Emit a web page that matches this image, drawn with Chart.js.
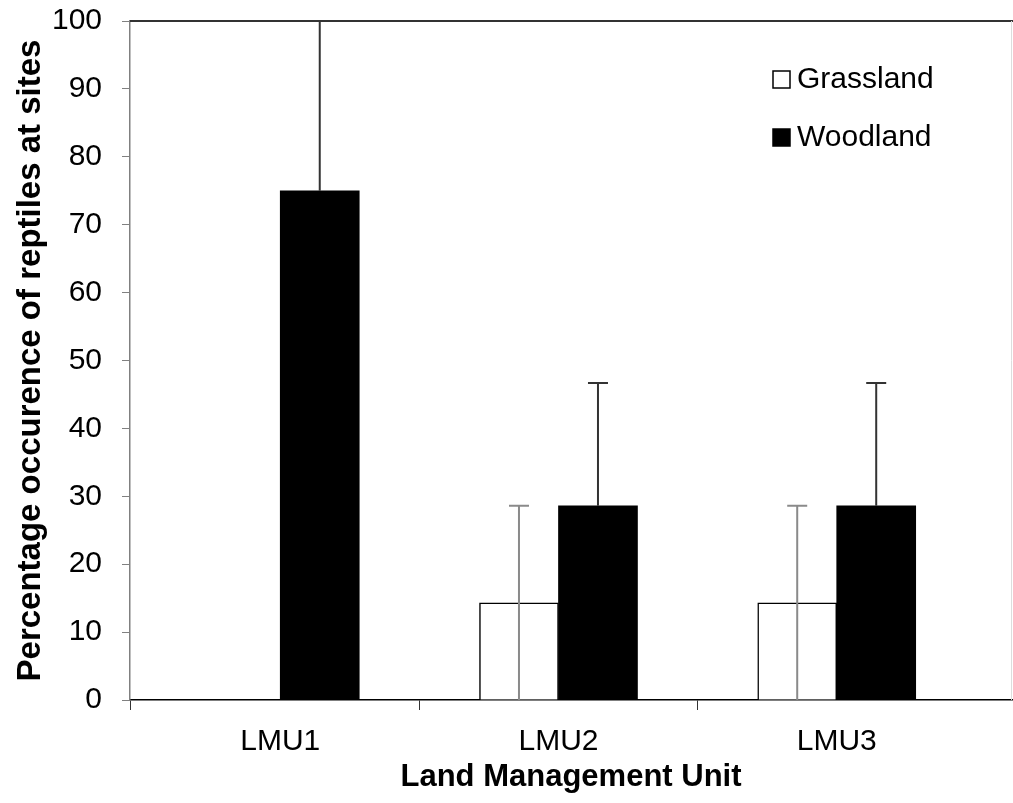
<!DOCTYPE html>
<html>
<head>
<meta charset="utf-8">
<script src="https://cdn.jsdelivr.net/npm/chart.js@4.4.1/dist/chart.umd.min.js"></script>
<style>
  html, body { margin: 0; padding: 0; background: #fff; }
  #wrap { width: 1013px; height: 803px; }
</style>
</head>
<body>
<div id="wrap"><canvas id="reptile-chart" width="1013" height="803"></canvas></div>
<script>
// data
const categories = ['LMU1', 'LMU2', 'LMU3'];
const grassland = [0, 14.3, 14.3];
const grasslandErr = [0, 14.3, 14.3];
const woodland = [75, 28.6, 28.6];
const woodlandErr = [25, 18.1, 18.1];
const yTicks = [0, 10, 20, 30, 40, 50, 60, 70, 80, 90, 100];

const FONT = "'Liberation Sans', Arial, sans-serif";
const X_MIN = -0.04;
const X_MAX = 3.13;

const toPoints = arr => arr.map((v, i) => ({ x: i + 0.5, y: v }));

// error bars drawn through the scales; minus half only where it shows
const errorBars = {
    id: 'errorBars',
    afterDatasetsDraw(chart) {
        const { ctx } = chart;
        const yScale = chart.scales.y;
        chart.data.datasets.forEach((ds, di) => {
            const meta = chart.getDatasetMeta(di);
            meta.data.forEach((bar, i) => {
                const err = ds.errors[i];
                if (!err) return;
                const v = ds.data[i].y;
                const top = yScale.getPixelForValue(Math.min(v + err, 100));
                const bottom = ds.errorMinus ? yScale.getPixelForValue(Math.max(v - err, 0)) : yScale.getPixelForValue(v);
                ctx.save();
                ctx.strokeStyle = ds.errorColor;
                ctx.lineWidth = 2;
                ctx.beginPath();
                ctx.moveTo(bar.x, bottom);
                ctx.lineTo(bar.x, top);
                ctx.moveTo(bar.x - 10, top);
                ctx.lineTo(bar.x + 10, top);
                ctx.stroke();
                ctx.restore();
            });
        });
    }
};

// top/right frame and the legend inside the plot
const frameAndLegend = {
    id: 'frameAndLegend',
    afterDraw(chart) {
        const { ctx, chartArea } = chart;
        ctx.save();
        ctx.strokeStyle = '#333';
        ctx.lineWidth = 2;
        ctx.beginPath();
        ctx.moveTo(chartArea.left, chartArea.top);
        ctx.lineTo(chartArea.right + 1, chartArea.top);
        ctx.stroke();
        ctx.strokeStyle = '#ddd';
        ctx.lineWidth = 1;
        ctx.beginPath();
        ctx.moveTo(chartArea.right - 0.5, chartArea.top);
        ctx.lineTo(chartArea.right - 0.5, chartArea.bottom);
        ctx.stroke();

        const lx = chartArea.right - 239;
        let ly = chartArea.top + 58;
        ctx.font = '30px ' + FONT;
        ctx.textBaseline = 'middle';
        chart.data.datasets.forEach(ds => {
            ctx.fillStyle = ds.backgroundColor;
            ctx.fillRect(lx, ly - 8, 17, 17);
            ctx.strokeStyle = '#000';
            ctx.lineWidth = 1.5;
            ctx.strokeRect(lx, ly - 8, 17, 17);
            ctx.fillStyle = '#000';
            ctx.fillText(ds.label, lx + 24, ly + 1);
            ly += 58;
        });
        ctx.restore();
    }
};

new Chart(document.getElementById('reptile-chart'), {
    type: 'bar',
    data: {
        datasets: [
            {
                label: 'Grassland',
                data: toPoints(grassland),
                errors: grasslandErr,
                errorMinus: true,
                errorColor: '#8a8a8a',
                backgroundColor: '#ffffff',
                borderColor: '#000000',
                borderWidth: 1.5,
                barThickness: 79
            },
            {
                label: 'Woodland',
                data: toPoints(woodland),
                errors: woodlandErr,
                errorMinus: false,
                errorColor: '#333333',
                backgroundColor: '#000000',
                borderColor: '#000000',
                borderWidth: 0,
                barThickness: 79
            }
        ]
    },
    options: {
        responsive: false,
        animation: false,
        layout: { padding: { top: 21, right: 1, left: 0, bottom: 0 } },
        plugins: {
            legend: { display: false },
            tooltip: { enabled: false }
        },
        scales: {
            x: {
                type: 'linear',
                offset: false,
                min: X_MIN,
                max: X_MAX,
                afterBuildTicks: scale => {
                    scale.ticks = [X_MIN, 0.5, 1, 1.5, 2, 2.5].map(v => ({ value: v }));
                },
                afterFit: scale => {
                    scale.height = 103;
                    scale.paddingLeft = 0;
                    scale.paddingRight = 0;
                },
                border: { color: '#000', width: 1.5 },
                grid: {
                    offset: false,
                    drawOnChartArea: false,
                    tickLength: 10,
                    color: c => (c.tick && c.tick.value % 1 === 0.5) ? 'rgba(0,0,0,0)' : '#333'
                },
                ticks: {
                    autoSkip: false,
                    maxRotation: 0,
                    padding: 14,
                    color: '#000',
                    font: { family: FONT, size: 30 },
                    callback: v => (v % 1 === 0.5) ? categories[Math.floor(v)] : ''
                },
                title: {
                    display: true,
                    text: 'Land Management Unit',
                    color: '#000',
                    font: { family: FONT, size: 31, weight: 'bold' },
                    padding: { top: 0, bottom: 7 }
                }
            },
            y: {
                min: 0,
                max: 100,
                afterBuildTicks: scale => {
                    scale.ticks = yTicks.map(v => ({ value: v }));
                },
                afterFit: scale => {
                    scale.width = 130;
                    scale.paddingTop = 0;
                    scale.paddingBottom = 0;
                },
                border: { color: '#808080', width: 1.5 },
                grid: {
                    drawOnChartArea: false,
                    tickLength: 8,
                    color: '#808080'
                },
                ticks: {
                    padding: 20,
                    color: '#000',
                    font: { family: FONT, size: 30 }
                },
                title: {
                    display: true,
                    text: 'Percentage occurence of reptiles at sites',
                    color: '#000',
                    font: { family: FONT, size: 33, weight: 'bold' },
                    padding: { top: 11, bottom: 0 }
                }
            }
        }
    },
    plugins: [errorBars, frameAndLegend]
});
</script>
</body>
</html>
